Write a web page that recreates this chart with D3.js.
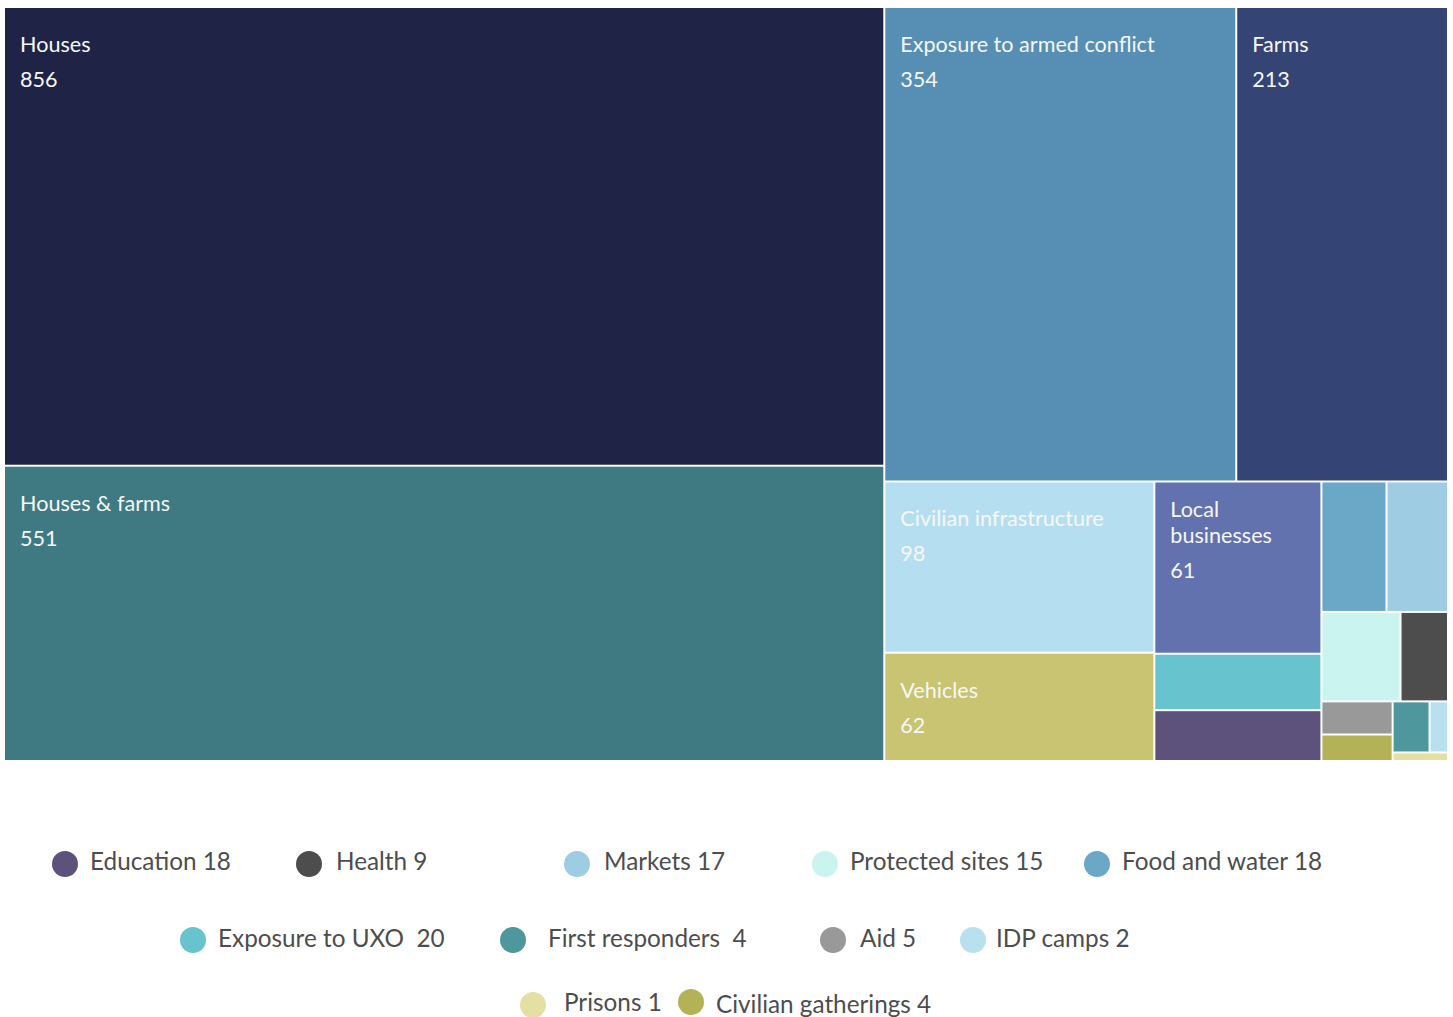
<!DOCTYPE html>
<html>
<head>
<meta charset="utf-8">
<script src="https://cdn.jsdelivr.net/npm/d3@7"></script>
<style>
  html, body { margin: 0; padding: 0; background: #ffffff; }
  svg { display: block; font-family: Lato, "Open Sans", sans-serif; }
</style>
</head>
<body>
<svg id="chart" width="1453" height="1017"></svg>
<script>
// ---- data ----
const categories = [
  "Houses", "Houses & farms", "Exposure to armed conflict", "Farms",
  "Civilian infrastructure", "Vehicles", "Local businesses",
  "Exposure to UXO", "Education", "Food and water", "Markets",
  "Protected sites", "Health", "Aid", "Civilian gatherings",
  "First responders", "IDP camps", "Prisons"
];
const values = [856, 551, 354, 213, 98, 62, 61, 20, 18, 18, 17, 15, 9, 5, 4, 4, 2, 1];
const colors = [
  "#1f2447", "#3f7a82", "#568fb3", "#344474",
  "#b5dff1", "#c9c472", "#6272ae",
  "#67c3cd", "#5d527c", "#6ba8c8", "#9ecde3",
  "#c9f4ef", "#4d4d4d", "#999999", "#b4b256",
  "#4e979d", "#b9e0ef", "#e4dfa2"
];
// categories labelled inside their cell
const labelled = ["Houses", "Houses & farms", "Exposure to armed conflict", "Farms",
  "Civilian infrastructure", "Vehicles", "Local businesses"];
// legend entries (order as shown) and spacing style between name and value
const legendItems = ["Education", "Health", "Markets", "Protected sites", "Food and water",
  "Exposure to UXO", "First responders", "Aid", "IDP camps", "Prisons", "Civilian gatherings"];
const legendWideGap = ["Exposure to UXO", "First responders"];

// ---- layout (positions only) ----
const legendLayout = [
  {cx: 65, cy: 864, tx: 90, ty: 870}, {cx: 309, cy: 864, tx: 336, ty: 870},
  {cx: 577, cy: 864, tx: 604, ty: 870}, {cx: 825, cy: 864, tx: 850, ty: 870},
  {cx: 1097, cy: 864, tx: 1122, ty: 870},
  {cx: 193, cy: 940, tx: 218, ty: 947}, {cx: 513, cy: 940, tx: 548, ty: 947},
  {cx: 833, cy: 940, tx: 860, ty: 947}, {cx: 973, cy: 940, tx: 996, ty: 947},
  {cx: 533, cy: 1005, tx: 564, ty: 1011}, {cx: 691, cy: 1002, tx: 716, ty: 1013}
];

const svg = d3.select("#chart");
const X0 = 5, Y0 = 8, W = 1442, H = 752;

const data = categories.map((c, i) => ({name: c, value: values[i], color: colors[i]}));
const root = d3.hierarchy({children: data})
  .sum(d => d.value || 0)
  .sort((a, b) => b.value - a.value);

d3.treemap()
  .tile(d3.treemapSquarify)
  .size([W, H])
  .paddingInner(2)
  (root);

const g = svg.append("g").attr("transform", `translate(${X0},${Y0})`);
const cell = g.selectAll("g.cell").data(root.leaves()).join("g").attr("class", "cell");

cell.append("rect")
  .attr("x", d => d.x0).attr("y", d => d.y0)
  .attr("width", d => Math.max(0, d.x1 - d.x0))
  .attr("height", d => Math.max(0, d.y1 - d.y0))
  .attr("fill", d => d.data.color);

// labels
const fontSize = 21.6;
cell.filter(d => labelled.includes(d.data.name)).each(function(d) {
  const sel = d3.select(this);
  const maxW = d.x1 - d.x0 - 30;
  const txt = sel.append("text")
    .attr("fill", "#f7f7f7")
    .attr("font-size", fontSize);
  // word wrap
  const words = d.data.name.split(" ");
  const lines = [];
  let line = "";
  const probe = sel.append("text").attr("font-size", fontSize);
  words.forEach(w => {
    const test = line ? line + " " + w : w;
    probe.text(test);
    if (probe.node().getComputedTextLength() > maxW && line) {
      lines.push(line); line = w;
    } else line = test;
  });
  lines.push(line);
  probe.remove();
  const startY = d.y0 + 44 - (lines.length - 1) * 9;
  lines.forEach((l, i) => {
    txt.append("tspan").attr("x", d.x0 + 15).attr("y", startY + i * 26).text(l);
  });
  txt.append("tspan").attr("x", d.x0 + 15)
    .attr("y", startY + (lines.length - 1) * 26 + 35)
    .text(d.data.value);
});

// legend
const lg = svg.append("g");
legendItems.forEach((name, i) => {
  const idx = categories.indexOf(name);
  const pos = legendLayout[i];
  lg.append("circle").attr("cx", pos.cx).attr("cy", pos.cy).attr("r", 13)
    .attr("fill", colors[idx]);
  lg.append("text").attr("x", pos.tx).attr("y", pos.ty)
    .attr("font-size", 24.3).attr("fill", "#4d4d4d")
    .style("white-space", "pre")
    .text(name + (legendWideGap.includes(name) ? "  " : " ") + values[idx]);
});
</script>
</body>
</html>
